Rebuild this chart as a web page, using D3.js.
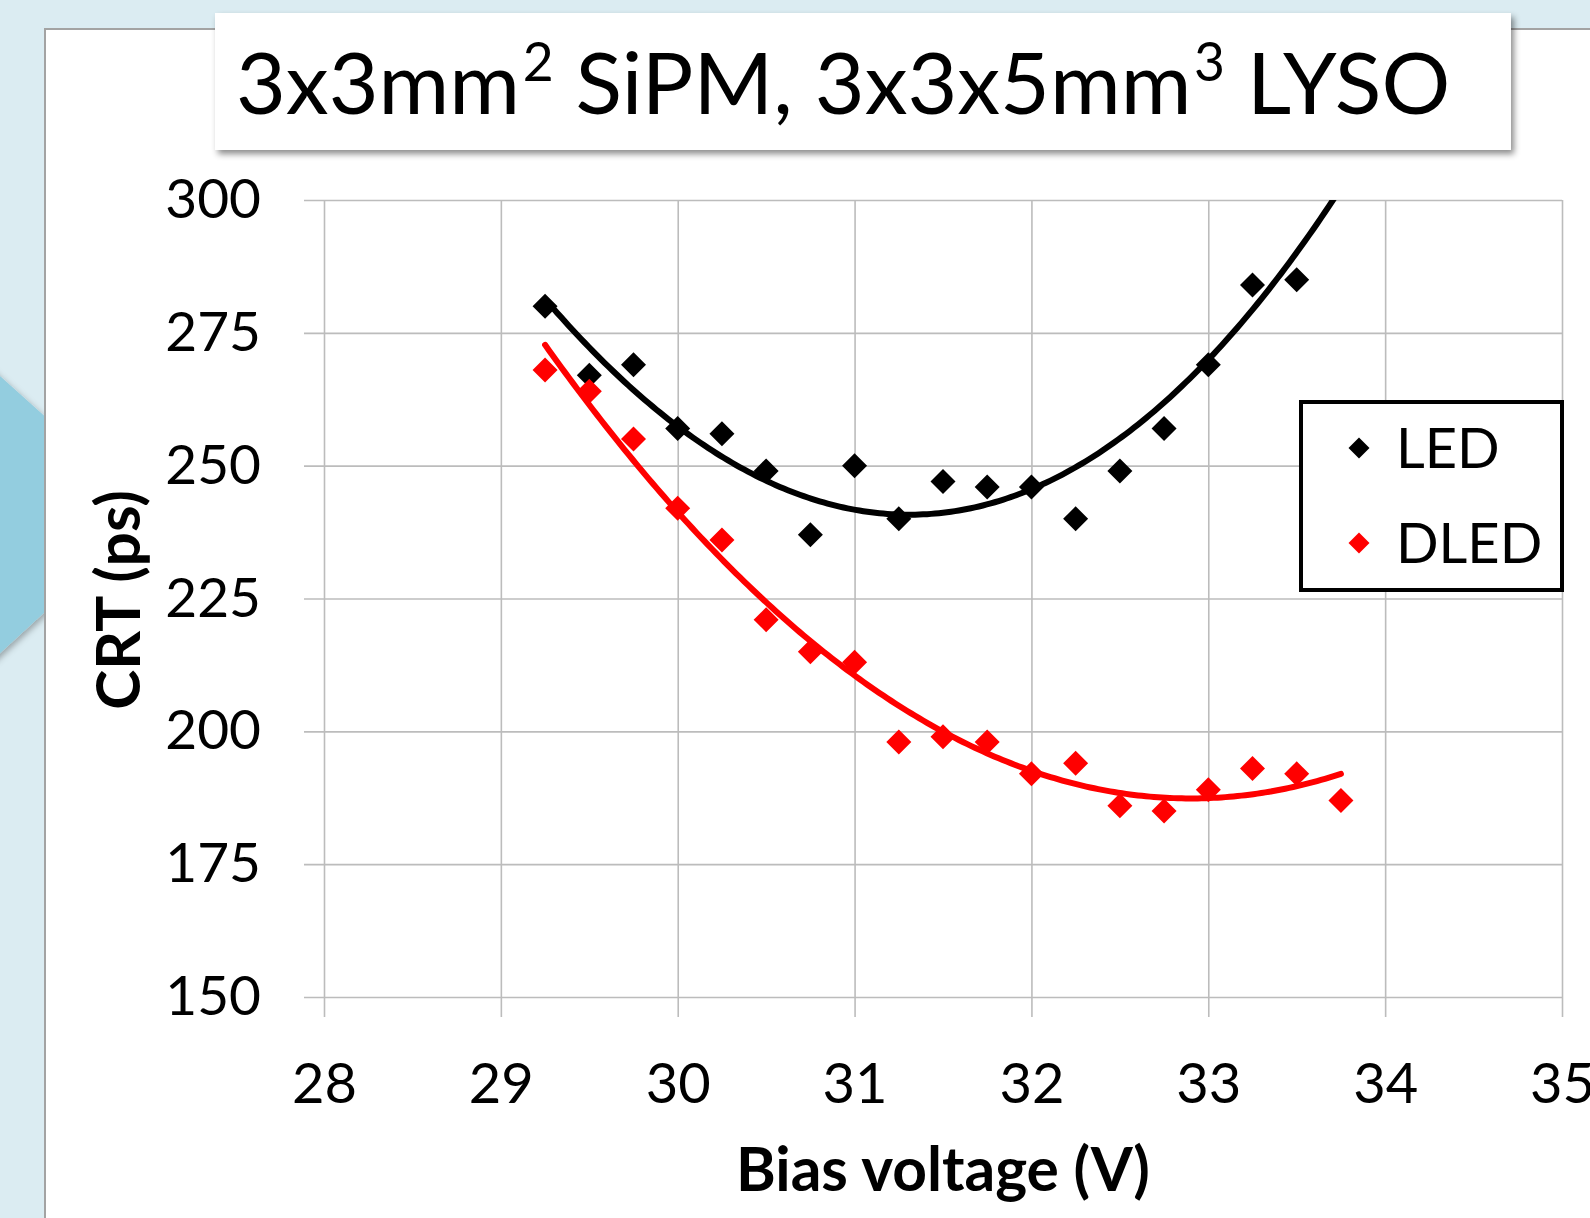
<!DOCTYPE html>
<html>
<head>
<meta charset="utf-8">
<script src="https://cdn.jsdelivr.net/npm/d3@7"></script>
<style>
  html, body { margin: 0; padding: 0; background: #dbecf2; overflow: hidden; }
  svg { display: block; }
  text { font-family: Lato, "Open Sans", sans-serif; }
</style>
</head>
<body>
<svg id="chart" width="1590" height="1218"></svg>
<script>
// ---------- data ----------
const voltageLED  = [29.25, 29.5, 29.75, 30.0, 30.25, 30.5, 30.75, 31.0, 31.25, 31.5, 31.75, 32.0, 32.25, 32.5, 32.75, 33.0, 33.25, 33.5];
const crtLED      = [280, 267, 269, 257, 256, 249, 237, 250, 240, 247, 246, 246, 240, 249, 257, 269, 284, 285];
const voltageDLED = [29.25, 29.5, 29.75, 30.0, 30.25, 30.5, 30.75, 31.0, 31.25, 31.5, 31.75, 32.0, 32.25, 32.5, 32.75, 33.0, 33.25, 33.5, 33.75];
const crtDLED     = [268, 264, 255, 242, 236, 221, 215, 213, 198, 199, 198, 192, 194, 186, 185, 189, 193, 192, 187];
// LED trendline (smoothed with a cubic fit)
const trendVoltLED = [29.25, 29.5, 30.0, 30.5, 31.0, 31.25, 31.5, 31.75, 32.0, 32.5, 32.75, 33.0, 33.5];
const trendCrtLED  = [281.5, 272.1, 257.2, 247.5, 241.9, 240.6, 240.9, 242.3, 246.2, 255.3, 261.7, 269.8, 290.2];
const xTicks = [28, 29, 30, 31, 32, 33, 34, 35];
const yTicks = [150, 175, 200, 225, 250, 275, 300];
const seriesNames = ["LED", "DLED"];
const seriesColors = ["#000000", "#ff0000"];
const trendOrder = [3, 2];
const trendRangeLED = [29.25, 33.75];
const trendRangeDLED = [29.25, 33.75];

// ---------- layout ----------
const svg = d3.select("#chart");
const X0 = 324, X1 = 1562, Y0 = 997, Y1 = 200;
const x = d3.scaleLinear().domain([28, 35]).range([X0, X1]);
const y = d3.scaleLinear().domain([150, 300]).range([Y0, Y1]);

const defs = svg.append("defs");
const sh = defs.append("filter").attr("id", "shadow").attr("x", "-5%").attr("y", "-20%").attr("width", "115%").attr("height", "150%");
sh.append("feDropShadow").attr("dx", 3).attr("dy", 4).attr("stdDeviation", 3).attr("flood-color", "#000").attr("flood-opacity", 0.45);
const sh2 = defs.append("filter").attr("id", "shadow2").attr("x", "-50%").attr("y", "-20%").attr("width", "200%").attr("height", "150%");
sh2.append("feDropShadow").attr("dx", 2).attr("dy", 3).attr("stdDeviation", 3).attr("flood-color", "#000").attr("flood-opacity", 0.3);
defs.append("clipPath").attr("id", "plotclip").append("rect")
  .attr("x", X0).attr("y", Y1).attr("width", X1 - X0).attr("height", Y0 - Y1);

// background decoration
svg.append("rect").attr("width", 1590).attr("height", 1218).attr("fill", "#dbecf2");
svg.append("polygon").attr("points", "-40,340 60,430 60,598 -40,690").attr("fill", "#93cddf").attr("filter", "url(#shadow2)");

// white panel
svg.append("rect").attr("x", 45).attr("y", 29).attr("width", 1600).attr("height", 1300)
  .attr("fill", "#fff").attr("stroke", "#a3a3a3").attr("stroke-width", 2);

// ---------- axes / grid ----------
const gy = svg.append("g").attr("transform", `translate(${X0},0)`)
  .call(d3.axisLeft(y).tickValues(yTicks).tickSize(-(X1 - X0)).tickPadding(63).tickFormat(d3.format("d")));
gy.select(".domain").remove();
gy.selectAll(".tick line").attr("x1", -20).attr("stroke", "#bcbcbc").attr("stroke-width", 1.6);
gy.selectAll(".tick text").attr("font-size", 55).attr("fill", "#000").attr("font-family", "Lato, sans-serif");

const gx = svg.append("g").attr("transform", `translate(0,${Y0})`)
  .call(d3.axisBottom(x).tickValues(xTicks).tickSize(-(Y0 - Y1)).tickPadding(66).tickFormat(d3.format("d")));
gx.select(".domain").remove();
gx.selectAll(".tick line").attr("y1", 20).attr("stroke", "#bcbcbc").attr("stroke-width", 1.6);
gx.selectAll(".tick text").attr("font-size", 56).attr("fill", "#000").attr("font-family", "Lato, sans-serif");

// axis titles
svg.append("text").attr("x", 943).attr("y", 1191).attr("text-anchor", "middle")
  .attr("font-size", 60.5).attr("font-weight", "bold").text("Bias voltage (V)");
svg.append("text").attr("transform", "translate(140,600) rotate(-90)").attr("text-anchor", "middle")
  .attr("font-size", 60.5).attr("font-weight", "bold").text("CRT (ps)");

// ---------- trendlines (least-squares polynomial) ----------
function polyfit(xs, ys, n) {
  const c0 = d3.mean(xs);
  const m = n + 1;
  const A = d3.range(m).map(() => new Array(m + 1).fill(0));
  xs.forEach((xv, i) => {
    const u = xv - c0;
    for (let r = 0; r < m; r++) {
      for (let c = 0; c < m; c++) A[r][c] += Math.pow(u, r + c);
      A[r][m] += ys[i] * Math.pow(u, r);
    }
  });
  for (let i = 0; i < m; i++) {
    for (let j = i + 1; j < m; j++) {
      const f = A[j][i] / A[i][i];
      for (let k = i; k <= m; k++) A[j][k] -= f * A[i][k];
    }
  }
  const c = new Array(m).fill(0);
  for (let i = m - 1; i >= 0; i--) {
    let v = A[i][m];
    for (let k = i + 1; k < m; k++) v -= A[i][k] * c[k];
    c[i] = v / A[i][i];
  }
  return xv => { const u = xv - c0; let s = 0; for (let k = 0; k < m; k++) s += c[k] * Math.pow(u, k); return s; };
}
const plot = svg.append("g").attr("clip-path", "url(#plotclip)");
const series = [
  { xs: voltageLED, ys: crtLED, fx: trendVoltLED, fy: trendCrtLED, color: seriesColors[0], range: trendRangeLED, order: trendOrder[0] },
  { xs: voltageDLED, ys: crtDLED, fx: voltageDLED, fy: crtDLED, color: seriesColors[1], range: trendRangeDLED, order: trendOrder[1] }
];
const line = d3.line().x(d => x(d[0])).y(d => y(d[1]));
series.forEach(s => {
  const f = polyfit(s.fx, s.fy, s.order);
  const pts = d3.range(0, 201).map(i => { const xv = s.range[0] + (s.range[1] - s.range[0]) * i / 200; return [xv, f(xv)]; });
  plot.append("path").datum(pts).attr("d", line).attr("fill", "none").attr("stroke", s.color).attr("stroke-width", 6).attr("stroke-linecap", "round");
});

// markers
const diamond = r => `M0,${-r}L${r},0L0,${r}L${-r},0Z`;
series.forEach(s => {
  svg.append("g").selectAll("path").data(s.xs.map((xv, i) => [xv, s.ys[i]])).join("path")
    .attr("transform", d => `translate(${x(d[0])},${y(d[1])})`)
    .attr("d", diamond(12.5)).attr("fill", s.color);
});

// ---------- legend ----------
const lg = svg.append("g");
lg.append("rect").attr("x", 1301).attr("y", 402).attr("width", 261).attr("height", 188)
  .attr("fill", "#fff").attr("stroke", "#000").attr("stroke-width", 4);
seriesNames.forEach((n, i) => {
  const cy = 448 + i * 95;
  lg.append("path").attr("transform", `translate(1359,${cy})`).attr("d", diamond(10.5)).attr("fill", seriesColors[i]);
  lg.append("text").attr("x", 1396).attr("y", cy + 20).attr("font-size", 56).text(n);
});

// ---------- title ----------
svg.append("rect").attr("x", 215).attr("y", 13).attr("width", 1296).attr("height", 137)
  .attr("fill", "#fff").attr("filter", "url(#shadow)");
const title = svg.append("text").attr("x", 236).attr("y", 114).attr("font-size", 90);
const parts = [["3x3mm", false], ["2", true], [" SiPM, 3x3x5mm", false], ["3", true], [" LYSO", false]];
parts.forEach(p => {
  const t = title.append("tspan").text(p[0]);
  if (p[1]) t.attr("font-size", "0.62em").attr("dy", "-0.62em").attr("dx", "0.05em");
  else if (title.selectAll("tspan").size() > 1) t.attr("dy", "0.3844em");
});
// fit title width to the box
const tw = title.node().getComputedTextLength();
title.attr("font-size", 90 * 1209 / tw);
</script>
</body>
</html>
